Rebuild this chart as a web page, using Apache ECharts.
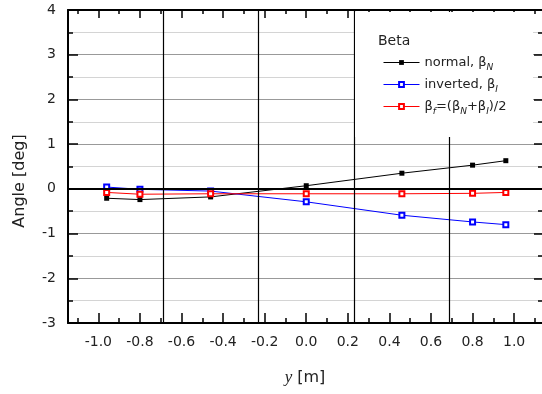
<!DOCTYPE html>
<html>
<head>
<meta charset="utf-8">
<script src="https://cdn.jsdelivr.net/npm/echarts@6/dist/echarts.min.js"></script>
<style>
  html, body { margin: 0; padding: 0; background: #fff; }
  #chart { width: 542px; height: 394px; }
</style>
</head>
<body>
<div id="chart"></div>
<script>
// spanwise positions y [m]
const positions = [-0.96, -0.80, -0.46, 0.0, 0.46, 0.80, 0.96];
// angle values [deg]
const betaNormal = [-0.21, -0.24, -0.18, 0.07, 0.35, 0.53, 0.63];
const betaInverted = [0.04, -0.01, -0.05, -0.29, -0.59, -0.74, -0.80];
const betaMean = [-0.08, -0.12, -0.11, -0.11, -0.11, -0.10, -0.08];
// vertical reference lines
const refLines = [-0.69, -0.23, 0.23, 0.69];
// tick labels
const xMajor = [-1.0, -0.8, -0.6, -0.4, -0.2, 0.0, 0.2, 0.4, 0.6, 0.8, 1.0];
const xMinor = [-1.1, -0.9, -0.7, -0.5, -0.3, -0.1, 0.1, 0.3, 0.5, 0.7, 0.9, 1.1];

const pairs = (ys) => positions.map((x, i) => [x, ys[i]]);
const font = "DejaVu Sans";
const xMin = -1.146, xMax = 1.134;

const legendNames = {
  normal: "normal, β{s|N}",
  inverted: "inverted, β{s|I}",
  mean: "β{s|f}=(β{s|N}+β{s|I})/2"
};

function xAxisDef(pos, values, len, line) {
  return {
    type: "value", position: pos, min: xMin, max: xMax,
    axisLine: { show: line, onZero: false, lineStyle: { color: "#000", width: 2 } },
    axisTick: { show: true, inside: true, length: len, customValues: values,
      lineStyle: { color: "#000", width: 1.5 } },
    axisLabel: { show: false },
    splitLine: { show: false }
  };
}

const bottomMajor = xAxisDef("bottom", xMajor, 10, true);
bottomMajor.axisLabel = {
  show: true, customValues: xMajor, margin: 12,
  formatter: (v) => v.toFixed(1), color: "#222", fontFamily: font, fontSize: 14
};
bottomMajor.name = "{i|y} [m]";
bottomMajor.nameLocation = "middle";
bottomMajor.nameGap = 46;
bottomMajor.nameTextStyle = {
  color: "#222", fontFamily: font, fontSize: 16,
  rich: { i: { fontFamily: "Liberation Serif", fontStyle: "italic", fontSize: 17, color: "#222" } }
};

const option = {
  animation: false,
  grid: { left: 68, right: -1, top: 10, bottom: 71 },
  xAxis: [
    bottomMajor,
    xAxisDef("bottom", xMinor, 5, false),
    xAxisDef("top", xMajor, 8, true),
    xAxisDef("top", xMinor, 4, false)
  ],
  yAxis: [
    {
      type: "value", position: "left", min: -3, max: 4, interval: 1,
      axisLine: { show: true, onZero: false, lineStyle: { color: "#000", width: 2 } },
      axisTick: { inside: true, length: 10, lineStyle: { color: "#000", width: 1.5 } },
      minorTick: { show: true, splitNumber: 2, length: 5, lineStyle: { color: "#000", width: 1.5 } },
      axisLabel: { margin: 12, color: "#222", fontFamily: font, fontSize: 14 },
      splitLine: { show: true, lineStyle: { color: "#999", width: 1 } },
      minorSplitLine: { show: true, lineStyle: { color: "#d4d4d4", width: 1 } }
    },
    {
      type: "value", position: "right", min: -3, max: 4, interval: 1,
      axisLine: { show: false, onZero: false },
      axisTick: { inside: true, length: 8, lineStyle: { color: "#000", width: 1.5 } },
      minorTick: { show: true, splitNumber: 2, length: 4, lineStyle: { color: "#000", width: 1.5 } },
      axisLabel: { show: false },
      splitLine: { show: false }
    }
  ],
  legend: {
    orient: "vertical", left: 378, top: 51, z: 20,
    itemWidth: 36, itemHeight: 6, itemGap: 6,
    data: ["normal", "inverted", "mean"],
    formatter: (n) => legendNames[n],
    lineStyle: { width: 1 },
    textStyle: {
      color: "#222", fontFamily: font, fontSize: 13,
      rich: { s: { fontSize: 9, fontStyle: "italic", fontFamily: font, color: "#222", padding: [10, 0, 0, 0] } }
    }
  },
  graphic: [
    { type: "rect", z: 10, shape: { x: 355, y: 12, width: 178, height: 125 }, style: { fill: "#fff" } },
    { type: "text", z: 20, left: 378, top: 34,
      style: { text: "Beta", fill: "#222", font: "14px DejaVu Sans" } },
    { type: "text", z: 20, x: 20, y: 181, rotation: Math.PI / 2,
      style: { text: "Angle [deg]", fill: "#222", font: "16px DejaVu Sans",
        textAlign: "center", textVerticalAlign: "middle" } }
  ],
  series: [
    {
      type: "line", silent: true, data: [], symbol: "none",
      markLine: {
        silent: true, symbol: "none", label: { show: false },
        lineStyle: { color: "#000", width: 1.2, type: "solid" },
        data: refLines.map((v) => ({ xAxis: v })).concat([{ yAxis: 0, lineStyle: { width: 2.2 } }])
      }
    },
    {
      name: "normal", type: "line", data: pairs(betaNormal),
      symbol: "rect", symbolSize: 5,
      lineStyle: { color: "#000", width: 1 },
      itemStyle: { color: "#000" }
    },
    {
      name: "inverted", type: "line", data: pairs(betaInverted),
      symbol: "emptyRect", symbolSize: 5,
      lineStyle: { color: "#0000ff", width: 1 },
      itemStyle: { color: "#0000ff", borderColor: "#0000ff", borderWidth: 1 }
    },
    {
      name: "mean", type: "line", data: pairs(betaMean),
      symbol: "emptyRect", symbolSize: 5,
      lineStyle: { color: "#ff0000", width: 1 },
      itemStyle: { color: "#ff0000", borderColor: "#ff0000", borderWidth: 1 }
    }
  ]
};

const chart = echarts.init(document.getElementById("chart"));
chart.setOption(option);
</script>
</body>
</html>
